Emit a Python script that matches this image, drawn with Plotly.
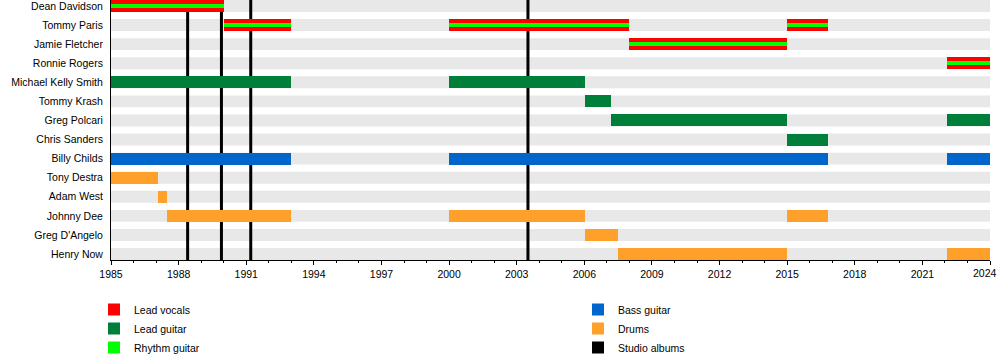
import plotly.graph_objects as go

# ---------------- data ----------------
members = ["Dean Davidson", "Tommy Paris", "Jamie Fletcher", "Ronnie Rogers",
           "Michael Kelly Smith", "Tommy Krash", "Greg Polcari", "Chris Sanders",
           "Billy Childs", "Tony Destra", "Adam West", "Johnny Dee",
           "Greg D'Angelo", "Henry Now"]

# Lead vocals (+ rhythm guitar)
vocal_member = ["Dean Davidson", "Tommy Paris", "Tommy Paris", "Tommy Paris",
                "Jamie Fletcher", "Ronnie Rogers"]
vocal_start = [1985.0, 1990.0, 2000.0, 2015.0, 2008.0, 2022.1]
vocal_end = [1990.0, 1993.0, 2008.0, 2016.8, 2015.0, 2024.0]

# Lead guitar
lead_member = ["Michael Kelly Smith", "Michael Kelly Smith", "Tommy Krash",
               "Greg Polcari", "Greg Polcari", "Chris Sanders"]
lead_start = [1985.0, 2000.0, 2006.05, 2007.2, 2022.1, 2015.0]
lead_end = [1993.0, 2006.05, 2007.2, 2015.0, 2024.0, 2016.8]

# Bass guitar
bass_member = ["Billy Childs", "Billy Childs", "Billy Childs"]
bass_start = [1985.0, 2000.0, 2022.1]
bass_end = [1993.0, 2016.8, 2024.0]

# Drums
drum_member = ["Tony Destra", "Adam West", "Johnny Dee", "Johnny Dee", "Johnny Dee",
               "Greg D'Angelo", "Henry Now", "Henry Now"]
drum_start = [1985.0, 1987.1, 1987.5, 2000.0, 2015.0, 2006.05, 2007.5, 2022.1]
drum_end = [1987.1, 1987.5, 1993.0, 2006.05, 2016.8, 2007.5, 2015.0, 2024.0]

# Studio albums
album_years = [1988.4, 1989.9, 1991.2, 2003.5]

x_start, x_end = 1985, 2024
tick_years = list(range(1985, 2025, 3))
tick_labels = [str(y) for y in tick_years]

# ---------------- style ----------------
C_VOC = "#ff0000"
C_RHY = "#00ff00"
C_LEAD = "#007f3a"
C_BASS = "#0066cc"
C_DRUM = "#ffa02a"
C_BAND = "#e8e8e8"
FONT = "Liberation Sans, Arial, sans-serif"
BW = 0.627
HW = BW / 2

row = {m: i for i, m in enumerate(members)}
n = len(members)

fig = go.Figure()

# background bands and album lines (below bars)
shapes = []
for i in range(n):
    shapes.append(dict(type="rect", xref="x", yref="y", x0=x_start, x1=x_end,
                       y0=i - HW, y1=i + HW, fillcolor=C_BAND,
                       line=dict(width=0), layer="below"))
for a in album_years:
    shapes.append(dict(type="line", xref="x", yref="y", x0=a, x1=a,
                       y0=-HW, y1=n - 1 + HW,
                       line=dict(color="black", width=3), layer="below"))


def add_bars(mem, st, en, color, width):
    fig.add_trace(go.Bar(
        orientation="h",
        y=[row[m] for m in mem],
        x=[e - s for s, e in zip(st, en)],
        base=st,
        width=width,
        marker=dict(color=color, line=dict(width=0)),
        showlegend=False,
        hoverinfo="skip",
    ))


add_bars(vocal_member, vocal_start, vocal_end, C_VOC, BW)
add_bars(vocal_member, vocal_start, vocal_end, C_RHY, BW / 3)
add_bars(lead_member, lead_start, lead_end, C_LEAD, BW)
add_bars(bass_member, bass_start, bass_end, C_BASS, BW)
add_bars(drum_member, drum_start, drum_end, C_DRUM, BW)

# legend entries
legend_items = [("Lead vocals", C_VOC, "legend"), ("Lead guitar", C_LEAD, "legend"),
                ("Rhythm guitar", C_RHY, "legend"), ("Bass guitar", C_BASS, "legend2"),
                ("Drums", C_DRUM, "legend2"), ("Studio albums", "black", "legend2")]
for name, col, lg in legend_items:
    fig.add_trace(go.Bar(orientation="h", x=[None], y=[None], name=name,
                         marker=dict(color=col, line=dict(width=0)),
                         legend=lg, showlegend=True))

legend_common = dict(font=dict(family=FONT, size=10.5, color="black"),
                     bgcolor="rgba(0,0,0,0)", borderwidth=0,
                     xanchor="left", yanchor="top", orientation="v",
                     traceorder="normal", tracegroupgap=0)

# last tick label is placed as an annotation so it stays inside the page
last_year = tick_years[-1]
axis_labels = tick_labels[:-1] + [""]
annotations = [dict(x=last_year, xref="x", y=0, yref="paper", text=tick_labels[-1],
                    xanchor="right", yanchor="top", xshift=9, yshift=-5,
                    showarrow=False, font=dict(family=FONT, size=10.5, color="black"))]

PLOT_H = 260
PLOT_W = 879
fig.update_layout(
    width=1000, height=360,
    margin=dict(l=111, r=10, t=0, b=100, autoexpand=False),
    plot_bgcolor="white", paper_bgcolor="white",
    barmode="overlay",
    bargap=0,
    shapes=shapes,
    annotations=annotations,
    font=dict(family=FONT, size=10.5, color="black"),
    xaxis=dict(range=[x_start, x_end], tickmode="array", tickvals=tick_years,
               ticktext=axis_labels,
               showgrid=False, zeroline=False, showline=True, linecolor="black",
               linewidth=1, ticks="outside", ticklen=4, tickcolor="black",
               ticklabeloverflow="allow", automargin=False,
               tickfont=dict(family=FONT, size=10.5, color="black"),
               minor=dict(dtick=1, tick0=1985, ticks="outside", ticklen=2,
                          tickcolor="black", showgrid=False)),
    yaxis=dict(range=[n - 1 + HW, -HW], tickmode="array",
               tickvals=list(range(n)), ticktext=members,
               showgrid=False, zeroline=False, showline=True, linecolor="black",
               linewidth=1, ticks="", ticklabelstandoff=5,
               ticklabeloverflow="allow", automargin=False,
               tickfont=dict(family=FONT, size=10.5, color="black")),
    legend=dict(x=(94 - 111) / PLOT_W, y=(PLOT_H - 295) / PLOT_H, **legend_common),
    legend2=dict(x=(578 - 111) / PLOT_W, y=(PLOT_H - 295) / PLOT_H, **legend_common),
)

fig.write_html("out.html", config={"displayModeBar": False},
               post_script="document.body.style.margin='0';document.body.style.overflow='hidden';")
